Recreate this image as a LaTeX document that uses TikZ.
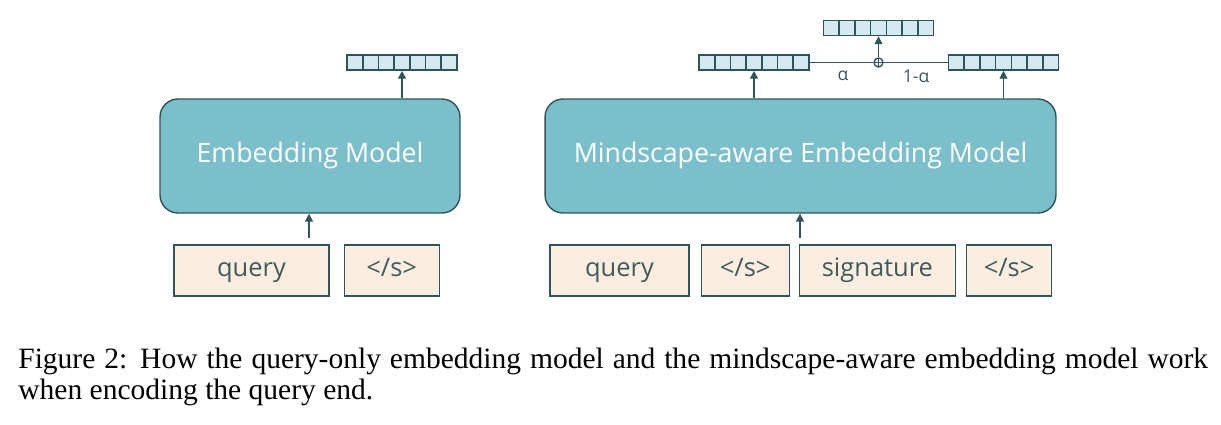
\documentclass[tikz,border=0pt]{standalone}
\usepackage{fontspec}
\setmainfont{Open Sans}
\newfontfamily\capfont{Liberation Serif}
\usetikzlibrary{arrows.meta}
\usetikzlibrary{positioning}
\usetikzlibrary{calc}

\definecolor{modelfill}{HTML}{7BBFCB}
\definecolor{darkline}{HTML}{2E555A}
\definecolor{vecfill}{HTML}{D5EAF0}
\definecolor{tokfill}{HTML}{FBEEE0}
\definecolor{toktext}{HTML}{3E5B5E}

\tikzset{
  model/.style={draw=darkline, line width=0.8pt, fill=modelfill, rounded corners=0.36cm,
    text=white, font=\fontsize{15.2}{18}\selectfont, minimum height=2.28cm},
  token/.style={draw=darkline, line width=0.7pt, fill=tokfill, text=toktext,
    font=\fontsize{14.5}{16}\selectfont, minimum height=1.02cm, inner sep=0pt,
    text height=9pt, text depth=1.8pt},
  vecbar/.style={draw=darkline, line width=0.9pt, fill=vecfill, minimum width=2.2cm,
    minimum height=0.3cm, inner sep=0pt,
    path picture={
      \foreach \k in {1,...,6}
        \draw[darkline, line width=0.9pt]
          ($(path picture bounding box.south west)!\k/7!(path picture bounding box.south east)$) --
          ($(path picture bounding box.north west)!\k/7!(path picture bounding box.north east)$);
    }},
  up/.style={-{Triangle[width=4.5pt,length=4.5pt]}, darkline, line width=0.8pt},
  weight/.style={text=toktext, font=\fontsize{10}{12}\selectfont},
}

\begin{document}
\begin{tikzpicture}[x=0.02cm, y=-0.02cm, node distance=0cm and 0.28cm]
  \useasboundingbox (0,0) rectangle (1221,424);

  % Left: query-only model
  \node (embL) [model, minimum width=6cm] at (310,156) {Embedding Model};
  \node (vecL) [vecbar] at (402,62.5) {};
  \node (qL) [token, minimum width=3.1cm] at (251.5,270.5) {query};
  \node (sL) [token, minimum width=1.9cm, right=of qL] {</s>};

  \coordinate (inL) at (309,238);
  \draw[up] (inL) -- (inL |- embL.south);
  \draw[up] (embL.north -| vecL.south) -- (vecL.south);

  % Right: mindscape-aware model
  \node (embR) [model, minimum width=10.22cm] at (800.5,156) {Mindscape-aware Embedding Model};
  \node (vecA) [vecbar] at (754,62.5) {};
  \node (vecB) [vecbar] at (1003.5,62.5) {};
  \node (vecC) [vecbar] at (878.5,28) {};
  \node (mix) [draw=darkline, line width=0.8pt, fill=white, circle, minimum size=0.18cm, inner sep=0pt,
    path picture={
      \draw[darkline, line width=0.6pt] (path picture bounding box.north) -- (path picture bounding box.south)
        (path picture bounding box.west) -- (path picture bounding box.east);
    }] at (878.5,62.5) {};

  \node (qR) [token, minimum width=2.78cm] at (619.5,270.5) {query};
  \node (sR1) [token, minimum width=1.76cm, right=0.22cm of qR] {</s>};
  \node (sig) [token, minimum width=3.12cm, right=0.18cm of sR1] {signature};
  \node (sR2) [token, minimum width=1.7cm, right=0.2cm of sig] {</s>};

  \coordinate (inR) at (800,238);
  \draw[up] (inR) -- (inR |- embR.south);
  \draw[up] (embR.north -| vecA.south) -- (vecA.south);
  \draw[up] (embR.north -| vecB.south) -- (vecB.south);

  % weighted sum
  \draw[darkline, line width=0.8pt] (vecA.east) -- (mix.west);
  \draw[darkline, line width=0.8pt] (mix.east) -- (vecB.west);
  \draw[up] (mix.north) -- (vecC.south);
  \node (alpha) [weight] at (843,76) {α};
  \node (beta) [weight] at (916,76) {1-α};

  % Caption
  \node (cap) [anchor=north west, text width=23.8cm, align=justify, inner sep=0pt,
    font=\capfont\fontsize{16.8}{17.2}\selectfont] at (18,348)
    {Figure 2: How the query-only embedding model and the mindscape-aware embedding model work\linebreak
     when encoding the query end.};
\end{tikzpicture}
\end{document}
